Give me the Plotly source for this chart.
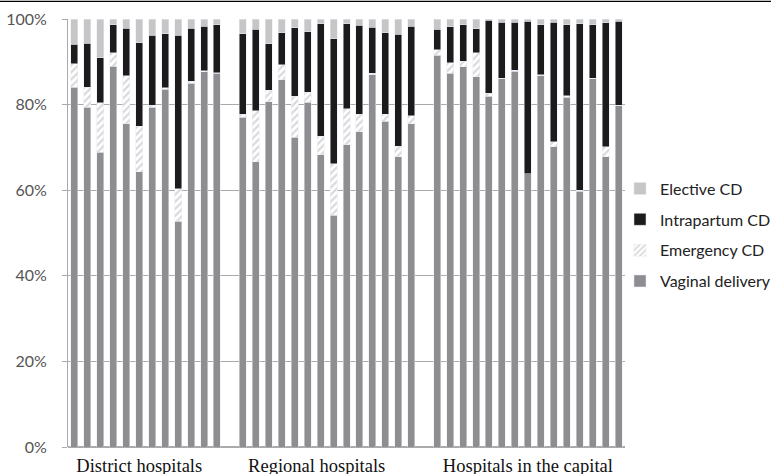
import plotly.graph_objects as go

groups = ["District hospitals", "Regional hospitals", "Hospitals in the capital"]
group_label_pos = [5.0, 18.7, 35.0]

# per-group hospital values (% of deliveries)
district_vaginal = [84.0, 79.4, 68.9, 89.0, 75.5, 64.3, 79.4, 83.6, 52.7, 85.0, 87.7, 87.3]
district_emerg = [5.6, 4.6, 11.5, 3.1, 11.2, 10.7, 0.5, 0.3, 7.6, 0.4, 0.2, 0.2]
district_intra = [4.5, 10.3, 10.6, 6.5, 11.1, 19.5, 16.3, 12.7, 35.9, 12.4, 10.4, 11.2]
district_elect = [5.9, 5.7, 9.0, 1.4, 2.2, 5.5, 3.8, 3.4, 3.8, 2.2, 1.7, 1.3]

regional_vaginal = [77.1, 66.6, 80.7, 85.8, 72.4, 80.5, 68.3, 54.1, 70.6, 73.6, 87.0, 76.1, 67.8, 75.5]
regional_emerg = [0.7, 12.0, 2.7, 3.5, 9.5, 2.4, 4.3, 12.1, 8.4, 4.2, 0.3, 1.7, 2.5, 1.9]
regional_intra = [18.8, 19.0, 10.8, 7.5, 16.0, 14.1, 26.3, 29.2, 19.9, 20.7, 10.8, 19.0, 26.1, 20.9]
regional_elect = [3.4, 2.4, 5.8, 3.2, 2.1, 3.0, 1.1, 4.6, 1.1, 1.5, 1.9, 3.2, 3.6, 1.7]

capital_vaginal = [91.5, 87.3, 88.9, 86.5, 81.9, 86.0, 87.8, 63.8, 86.7, 70.1, 81.7, 59.7, 86.0, 67.8, 79.7]
capital_emerg = [1.3, 2.5, 1.2, 5.6, 0.7, 0.2, 0.2, 0.1, 0.3, 1.2, 0.4, 0.3, 0.2, 2.3, 0.2]
capital_intra = [4.8, 8.4, 8.6, 5.6, 17.1, 13.1, 11.3, 35.6, 11.6, 28.0, 16.5, 38.9, 12.5, 29.0, 19.6]
capital_elect = [2.4, 1.8, 1.3, 2.3, 0.3, 0.7, 0.7, 0.5, 1.4, 0.7, 1.4, 1.1, 1.3, 0.9, 0.5]

series_names = ["Vaginal delivery", "Emergency CD", "Intrapartum CD", "Elective CD"]

group_data = [
    [district_vaginal, district_emerg, district_intra, district_elect],
    [regional_vaginal, regional_emerg, regional_intra, regional_elect],
    [capital_vaginal, capital_emerg, capital_intra, capital_elect],
]

# x slot positions: one empty slot between groups
xs = []
start = 0
for g in group_data:
    n = len(g[0])
    xs += list(range(start, start + n))
    start += n + 1

def concat(idx):
    out = []
    for g in group_data:
        out += g[idx]
    return out

fig = go.Figure()
styles = [
    dict(color="#8e8e91"),
    dict(color="white", pattern=dict(shape="/", fgcolor="#b4b4b4", bgcolor="white", size=5, solidity=0.45)),
    dict(color="#1c1a1b"),
    dict(color="#c6c6c6"),
]
for i, name in enumerate(series_names):
    fig.add_trace(go.Bar(x=xs, y=concat(i), name=name, marker=styles[i],
                         legendgroup=name, legendrank=len(series_names) - i))

fig.update_layout(
    width=771, height=474,
    barmode="stack", bargap=0.46,
    plot_bgcolor="white", paper_bgcolor="white",
    margin=dict(l=68, r=146, t=19, b=27, autoexpand=False),
    showlegend=True,
    legend=dict(traceorder="grouped", tracegroupgap=7,
                x=0.991, xanchor="left", y=0.495, yanchor="middle",
                bgcolor="rgba(0,0,0,0)",
                font=dict(family="Lato", size=16, color="#222"),
                itemwidth=30),
    xaxis=dict(range=[xs[0] - 0.5, xs[-1] + 0.5], tickmode="array",
               tickvals=group_label_pos, ticktext=groups, automargin=False,
               tickfont=dict(family="Liberation Serif", size=18.5, color="#111"),
               ticklabelstandoff=5,
               showgrid=False, zeroline=False, showline=False, ticks=""),
    yaxis=dict(range=[0, 100], dtick=20, ticksuffix="%", automargin=False,
               tickfont=dict(family="Lato", size=16, color="#555"),
               ticklabelstandoff=12,
               showgrid=True, gridcolor="#aaaaaa", gridwidth=1,
               zeroline=True, zerolinecolor="#aaaaaa",
               showline=True, linecolor="#aaaaaa", ticks="outside",
               ticklen=5, tickcolor="#aaaaaa"),
    shapes=[dict(type="line", xref="paper", yref="paper",
                 x0=-0.13, x1=1.27, y0=1.041, y1=1.041,
                 line=dict(color="black", width=1.2))],
)

fig.write_html("out.html", config={"displayModeBar": False},
               post_script="document.body.style.margin='0px';")
